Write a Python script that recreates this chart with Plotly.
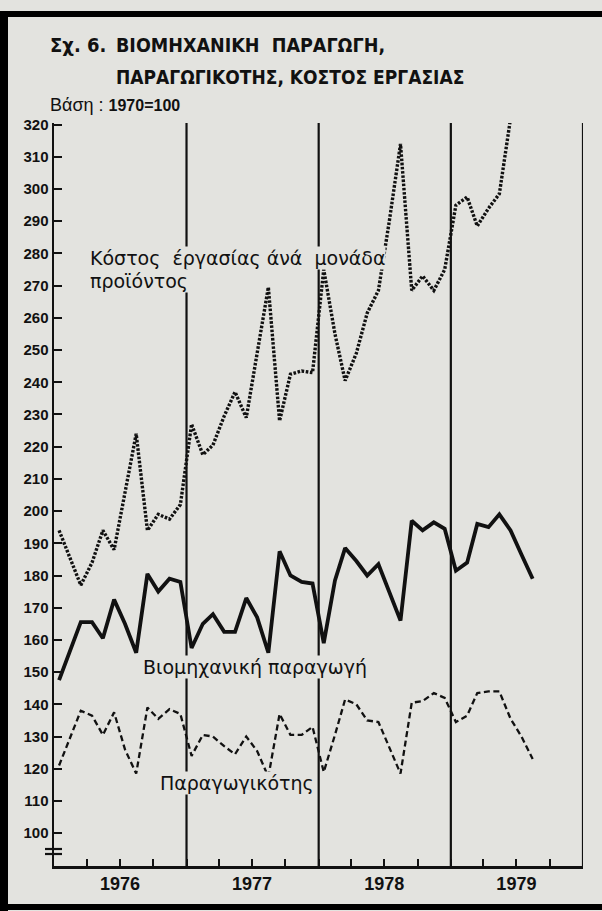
import plotly.graph_objects as go

# ---------------- data ----------------
YEARS = [1976, 1977, 1978, 1979]
YEAR_LABELS = ["1976", "1977", "1978", "1979"]

# monthly points, Jan 1976 onwards
COST = [194, 185, 177, 184, 194, 188, 206, 224, 194, 199, 197.5, 202,
        227, 217.5, 220.5, 229.5, 237, 229, 249, 269.5, 228, 242.5, 243.5, 243,
        275, 255, 240.5, 249, 261.5, 268.5, 290, 314, 268.5, 273, 268.5, 275,
        295, 297.5, 288.5, 294, 298.5, 322]

PRODUCTION = [147.5, 156.5, 165.5, 165.5, 160.5, 172.5, 165, 156, 180.5, 175, 179, 178,
              157.5, 165, 168, 162.5, 162.5, 173, 167, 156, 187.5, 180, 178, 177.5,
              159, 178.5, 188.5, 184.5, 180, 183.5, 175, 166, 197, 194, 196.5, 194.5,
              181.5, 184, 196, 195, 199, 194, 186.5, 179]

PRODUCTIVITY = [121, 130, 138, 136.5, 130.5, 137.5, 126, 118.5, 139, 135.5, 138.5, 137,
                124, 130.5, 130, 127, 124.5, 130, 125.5, 117.5, 137, 130.5, 130.5, 133,
                119, 130.5, 141.5, 140, 135, 134.5, 126.5, 118.5, 140.5, 141, 143.5, 142,
                134.5, 136.5, 143.5, 144, 144, 135.5, 130, 123]

Y_TICKS = list(range(100, 330, 10))

MONTHS = [f"{y}-{m:02d}-15" for y in YEARS for m in range(1, 13)]
QUARTERS = [f"{y}-{m:02d}-01" for y in YEARS for m in (1, 4, 7, 10)]
QUARTER_TEXT = [YEAR_LABELS[i // 4] if i % 4 == 2 else "" for i in range(len(QUARTERS))]

# ---------------- layout geometry ----------------
W, H = 602, 911
L, R, T, B = 54, 583, 123, 866
BG = "#e3e3df"
INK = "#111111"


def pxx(x):
    return (x - L) / (R - L)


def pxy(y):
    return (B - y) / (B - T)


fig = go.Figure()

fig.add_trace(go.Scatter(
    x=MONTHS[:len(COST)], y=COST, mode="lines",
    line=dict(color=INK, width=3.4, dash="2.6px,1.6px"),
    hoverinfo="skip"))
fig.add_trace(go.Scatter(
    x=MONTHS[:len(PRODUCTION)], y=PRODUCTION, mode="lines",
    line=dict(color=INK, width=3.8),
    hoverinfo="skip"))
fig.add_trace(go.Scatter(
    x=MONTHS[:len(PRODUCTIVITY)], y=PRODUCTIVITY, mode="lines",
    line=dict(color=INK, width=2.3, dash="6px,3.5px"),
    hoverinfo="skip"))

shapes = []
# year separators and right edge
for yr in YEARS[1:] + [YEARS[-1] + 1]:
    shapes.append(dict(type="line", xref="x", yref="paper",
                       x0=f"{yr}-01-01", x1=f"{yr}-01-01", y0=0, y1=1.0,
                       line=dict(color=INK, width=2.2), layer="below"))
# axis break mark
for yy in (849, 854):
    shapes.append(dict(type="line", xref="paper", yref="paper",
                       x0=pxx(45), x1=pxx(62), y0=pxy(yy), y1=pxy(yy),
                       line=dict(color=INK, width=2.2)))
# outer frame of the printed figure
shapes.append(dict(type="line", xref="paper", yref="paper",
                   x0=pxx(0), x1=pxx(602), y0=pxy(14), y1=pxy(14),
                   line=dict(color="#000", width=6)))
shapes.append(dict(type="line", xref="paper", yref="paper",
                   x0=pxx(4), x1=pxx(4), y0=pxy(11), y1=pxy(911),
                   line=dict(color="#000", width=8)))
shapes.append(dict(type="line", xref="paper", yref="paper",
                   x0=pxx(0), x1=pxx(602), y0=pxy(907), y1=pxy(907),
                   line=dict(color="#000", width=6)))

TITLE_FONT = "Liberation Sans Narrow, DejaVu Sans Condensed, Liberation Sans, Arial"
LABEL_FONT = "DejaVu Sans, Liberation Sans, Arial"


def ann(text, x, y, size, family, anchor="left", bg=None):
    d = dict(text=text, xref="paper", yref="paper", x=pxx(x), y=pxy(y),
             xanchor=anchor, yanchor="middle", showarrow=False,
             font=dict(size=size, family=family, color=INK))
    if bg:
        d.update(bgcolor=bg, borderpad=0)
    return d


annotations = [
    ann("<b>Σχ. 6.</b>", 48, 45, 20, TITLE_FONT),
    ann("<b>ΒΙΟΜΗΧΑΝΙΚΗ  ΠΑΡΑΓΩΓΗ,</b>", 114, 45, 19.5, TITLE_FONT),
    ann("<b>ΠΑΡΑΓΩΓΙΚΟΤΗΣ, ΚΟΣΤΟΣ ΕΡΓΑΣΙΑΣ</b>", 114, 77, 19, TITLE_FONT),
    ann("Βάση : <b><span style='font-size:16px'>1970=100</span></b>", 48, 105, 18,
        "Liberation Sans, Arial"),
    ann("Κόστος  έργασίας άνά  μονάδα", 89, 258, 19, LABEL_FONT, bg=BG),
    ann("προϊόντος", 89, 281, 19, LABEL_FONT, bg=BG),
    ann("Βιομηχανική παραγωγή", 142, 667, 19, LABEL_FONT, bg=BG),
    ann("Παραγωγικότης", 159, 783, 19, LABEL_FONT, bg=BG),
]

fig.update_layout(
    width=W, height=H,
    margin=dict(l=L, r=W - R, t=T, b=H - B, pad=0),
    paper_bgcolor=BG, plot_bgcolor=BG,
    showlegend=False,
    shapes=shapes,
    annotations=annotations,
    xaxis=dict(
        range=[f"{YEARS[0]}-01-01", f"{YEARS[-1] + 1}-01-01"],
        showgrid=False, zeroline=False,
        showline=True, linecolor=INK, linewidth=2.5,
        tickmode="array", tickvals=QUARTERS,
        ticktext=[f"<b>{t}</b>" if t else "" for t in QUARTER_TEXT],
        ticks="inside", ticklen=7, tickwidth=2, tickcolor=INK,
        tickfont=dict(size=18, family="Liberation Sans, Arial", color=INK),
    ),
    yaxis=dict(
        range=[89.8, 320.5],
        showgrid=False, zeroline=False,
        showline=True, linecolor=INK, linewidth=2.5,
        tickmode="array", tickvals=Y_TICKS, ticktext=[f"<b>{v}</b>" for v in Y_TICKS],
        ticks="inside", ticklen=8, tickwidth=2, tickcolor=INK,
        tickfont=dict(size=15, family="Liberation Sans, Arial", color=INK),
    ),
)

fig.write_html(
    "out.html",
    config={"displayModeBar": False, "staticPlot": True},
    post_script="document.body.style.margin='0';document.body.style.overflow='hidden';",
)
